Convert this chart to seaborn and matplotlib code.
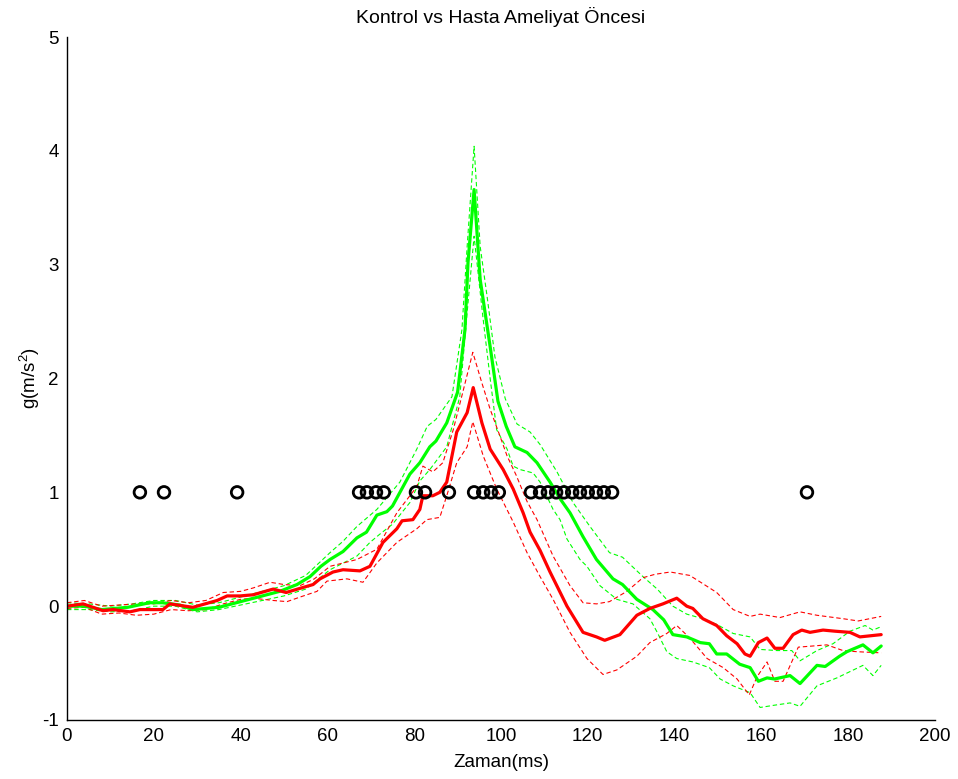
import matplotlib
matplotlib.use("Agg")
import matplotlib.pyplot as plt
import seaborn as sns

# Control group (green): mean and band
gm_x = [0, 4, 8, 14, 19, 22, 26, 29, 35, 40, 45, 49, 53, 56, 58.5, 60.6, 63.6, 66.8, 69, 71.4,
        73.7, 75, 77, 79, 81.3, 83.6, 85, 87.5, 90, 91.7, 92.4, 93.8, 95.2, 97.5, 99.3, 101.2,
        103.2, 106, 108.3, 111.3, 113.5, 115.9, 118.9, 122, 125.8, 128, 131.3, 135, 137.5, 139.6,
        142.8, 145.9, 148, 149.7, 152, 155, 157.4, 159.3, 161.3, 163, 166.6, 168.9, 172.8, 174.7,
        178, 179.7, 183.4, 185.7, 187.6]
gm_y = [0.0, 0.0, -0.03, -0.01, 0.03, 0.03, 0.01, -0.03, -0.01, 0.04, 0.09, 0.13, 0.19, 0.26,
        0.35, 0.41, 0.48, 0.60, 0.65, 0.80, 0.83, 0.88, 1.02, 1.16, 1.26, 1.40, 1.45, 1.61, 1.88,
        2.43, 3.02, 3.66, 2.87, 2.28, 1.80, 1.58, 1.40, 1.35, 1.26, 1.09, 0.95, 0.82, 0.61, 0.41,
        0.24, 0.19, 0.06, -0.03, -0.12, -0.25, -0.27, -0.32, -0.33, -0.42, -0.42, -0.51, -0.54,
        -0.66, -0.63, -0.64, -0.61, -0.68, -0.52, -0.53, -0.44, -0.40, -0.34, -0.41, -0.35]

gu_x = [0, 5, 10, 15, 20, 25, 30, 35, 40, 45, 50, 55, 60.6, 63.6, 66.8, 71.4, 76.7, 80.6, 83, 85,
        88.7, 91, 92.2, 93.8, 95.2, 96.8, 98.6, 101, 103.7, 106.7, 109, 112.9, 116.6, 120.5, 125,
        128, 132.7, 136, 139.6, 142.8, 146.5, 149.7, 153.5, 157.4, 159.7, 163.6, 167, 168.9, 172.8,
        176.5, 180.4, 183.9, 185.7, 187.6]
gu_y = [0.03, 0.02, 0.0, 0.02, 0.05, 0.05, 0.01, 0.03, 0.08, 0.13, 0.18, 0.27, 0.47, 0.57, 0.70,
        0.85, 1.09, 1.38, 1.58, 1.64, 1.84, 2.43, 3.16, 4.04, 3.16, 2.72, 2.19, 1.82, 1.60, 1.53,
        1.42, 1.18, 0.91, 0.70, 0.47, 0.43, 0.26, 0.15, 0.0, -0.07, -0.11, -0.16, -0.24, -0.27,
        -0.38, -0.39, -0.39, -0.48, -0.39, -0.33, -0.22, -0.17, -0.21, -0.18]

gl_x = [0, 5, 10, 15, 20, 25, 30, 35, 40, 45, 50, 55, 60.6, 66.8, 69.8, 72, 75, 79, 81.3, 83.6,
        87.5, 90.5, 92.2, 93.8, 95.8, 97.5, 99, 101.4, 102.8, 104.4, 107.4, 109, 112, 113.6, 115.2,
        118.2, 119.8, 122.8, 126.7, 130.4, 134.3, 136, 138.2, 140.5, 144.2, 148, 150.5, 153.5,
        157.4, 159.7, 163, 166.6, 168.9, 172.8, 177.4, 183.4, 185.7, 187.6]
gl_y = [-0.03, -0.03, -0.05, -0.04, 0.0, 0.0, -0.05, -0.03, 0.01, 0.05, 0.09, 0.15, 0.32, 0.44,
        0.56, 0.63, 0.72, 0.91, 1.10, 1.20, 1.40, 1.84, 2.58, 3.25, 2.55, 2.0, 1.55, 1.38, 1.23,
        1.20, 1.17, 1.09, 0.85, 0.76, 0.59, 0.41, 0.35, 0.18, 0.06, 0.02, -0.11, -0.23, -0.40,
        -0.46, -0.49, -0.54, -0.64, -0.70, -0.76, -0.89, -0.87, -0.85, -0.88, -0.70, -0.63, -0.52,
        -0.61, -0.52]

# Patient group before surgery (red): mean and band
rm_x = [0, 3.7, 8.3, 10.6, 14.5, 16.8, 22.1, 23.7, 29, 34.6, 36.9, 39.9, 42.9, 47.5, 50.5, 54,
        56.7, 58.3, 61.3, 63.6, 67.5, 69.8, 72.8, 76, 77.2, 79.7, 81.3, 82, 84.3, 85.9, 87.5, 89.8,
        92.2, 93.6, 95.6, 97.5, 100.5, 102.8, 105.1, 106.7, 109, 111.3, 115.2, 118.9, 122, 123.9,
        127.4, 131.3, 134.3, 137.3, 140.5, 142.8, 144.2, 146.5, 149.7, 152, 154.4, 156.2, 157.4,
        159.3, 161.3, 163.1, 165, 167.3, 169.3, 171.2, 174.2, 177, 180.4, 182.7, 187.6]
rm_y = [0.0, 0.02, -0.04, -0.03, -0.05, -0.03, -0.03, 0.02, -0.01, 0.05, 0.09, 0.09, 0.10, 0.15,
        0.12, 0.16, 0.19, 0.24, 0.30, 0.32, 0.31, 0.35, 0.56, 0.68, 0.75, 0.76, 0.85, 0.97, 0.97,
        1.0, 1.09, 1.53, 1.70, 1.92, 1.61, 1.38, 1.20, 1.03, 0.82, 0.65, 0.49, 0.30, 0.0, -0.23,
        -0.27, -0.30, -0.25, -0.08, -0.02, 0.02, 0.07, 0.0, -0.02, -0.11, -0.17, -0.26, -0.33,
        -0.42, -0.44, -0.32, -0.28, -0.37, -0.37, -0.25, -0.21, -0.23, -0.21, -0.22, -0.23, -0.27,
        -0.25]

ru_x = [0, 4, 8, 12, 16, 20, 24, 28, 32, 36, 40, 42.9, 46.8, 50, 53.7, 57, 60.6, 66.8, 71.4, 76,
        80.6, 82, 84.3, 86.6, 89, 91.2, 93.5, 95.6, 97.5, 99.8, 101.4, 103.5, 106, 108.3, 112,
        115.9, 118.9, 122, 125, 129, 132.7, 135.5, 139, 143.5, 146, 149.7, 153.5, 157.4, 159.7,
        164.3, 168.9, 172.8, 178.8, 182.3, 187.6]
ru_y = [0.03, 0.05, 0.0, 0.01, 0.02, 0.02, 0.05, 0.03, 0.05, 0.12, 0.13, 0.16, 0.21, 0.19, 0.18,
        0.24, 0.35, 0.41, 0.50, 0.82, 1.05, 1.23, 1.18, 1.26, 1.55, 1.88, 2.23, 1.96, 1.73, 1.49,
        1.32, 1.15, 0.92, 0.76, 0.44, 0.18, 0.03, 0.02, 0.04, 0.13, 0.25, 0.28, 0.30, 0.27, 0.21,
        0.12, -0.03, -0.09, -0.07, -0.10, -0.05, -0.08, -0.11, -0.13, -0.09]

rl_x = [0, 4, 8, 12, 16, 20, 24, 28, 32, 36, 40, 42.9, 47.5, 50.7, 53.7, 57.6, 59.9, 64.5, 68.2,
        71.4, 76, 80.6, 82.9, 85.9, 87.5, 89.8, 92.2, 93.5, 95.9, 99, 102.8, 106, 109, 112, 115.9,
        119.8, 123.5, 126.7, 131.3, 134.3, 138.2, 140.5, 143.5, 147.5, 151.2, 154.4, 157.2, 159,
        161.3, 163.1, 165, 168.5, 175.1, 178.8, 182, 187.6]
rl_y = [-0.02, -0.01, -0.07, -0.06, -0.08, -0.07, -0.03, -0.04, -0.03, 0.02, 0.06, 0.07, 0.05,
        0.04, 0.08, 0.13, 0.22, 0.24, 0.21, 0.38, 0.56, 0.68, 0.76, 0.78, 0.97, 1.26, 1.40, 1.62,
        1.32, 1.03, 0.74, 0.47, 0.26, 0.06, -0.23, -0.46, -0.60, -0.56, -0.44, -0.32, -0.24, -0.17,
        -0.28, -0.46, -0.54, -0.64, -0.78, -0.62, -0.49, -0.66, -0.66, -0.36, -0.34, -0.39, -0.40,
        -0.41]

# Time points flagged as significantly different
sig_x = [16.8, 22.35, 39.2, 67.3, 69.1, 71.2, 73.0, 80.4, 82.5, 88.0, 93.8, 95.9, 97.7, 99.5,
         106.9, 109.0, 110.8, 112.7, 114.5, 116.4, 118.2, 120.0, 121.9, 123.7, 125.6, 170.5]
sig_y = [1] * len(sig_x)

x_ticks = [0, 20, 40, 60, 80, 100, 120, 140, 160, 180, 200]
y_ticks = [-1, 0, 1, 2, 3, 4, 5]

sns.set_style("white")
plt.rcParams["font.family"] = ["Liberation Sans", "DejaVu Sans"]
plt.rcParams["mathtext.fontset"] = "custom"
plt.rcParams["mathtext.rm"] = "Liberation Sans"
plt.rcParams["mathtext.it"] = "Liberation Sans"
plt.rcParams["text.color"] = "black"
plt.rcParams["axes.labelcolor"] = "black"

fig = plt.figure(figsize=(9.58, 7.79), dpi=100)
ax = fig.add_axes([67 / 958, 59 / 779, 868 / 958, 683 / 779])

GREEN = (0.0, 1.0, 0.0)
RED = (1.0, 0.0, 0.0)
dash = (0, (4, 2.5))

for xs, ys in [(gu_x, gu_y), (gl_x, gl_y)]:
    sns.lineplot(x=xs, y=ys, ax=ax, color=GREEN, linewidth=0.8, linestyle=dash,
                 estimator=None, sort=False)
for xs, ys in [(ru_x, ru_y), (rl_x, rl_y)]:
    sns.lineplot(x=xs, y=ys, ax=ax, color=RED, linewidth=0.8, linestyle=dash,
                 estimator=None, sort=False)
sns.lineplot(x=gm_x, y=gm_y, ax=ax, color=GREEN, linewidth=2.3, estimator=None, sort=False)
sns.lineplot(x=rm_x, y=rm_y, ax=ax, color=RED, linewidth=2.3, estimator=None, sort=False)

sns.scatterplot(x=sig_x, y=sig_y, ax=ax, marker="o", s=70, facecolor="none",
                edgecolor="black", linewidth=2.0, zorder=5)

ax.set_xlim(0, 200)
ax.set_ylim(-1, 5)
ax.set_xticks(x_ticks)
ax.set_yticks(y_ticks)
ax.set_xticklabels([str(t) for t in x_ticks])
ax.set_yticklabels([str(t) for t in y_ticks])

for side in ["top", "right"]:
    ax.spines[side].set_visible(False)
for side in ["left", "bottom"]:
    ax.spines[side].set_color("black")
    ax.spines[side].set_linewidth(1.0)

ax.tick_params(axis="both", direction="in", length=6, width=0.8, color="black",
               labelsize=13.5, labelcolor="black")
ax.tick_params(axis="x", pad=6)
ax.tick_params(axis="y", pad=6)

ax.set_title("Kontrol vs Hasta Ameliyat Öncesi", fontsize=14, pad=10, color="black")
ax.set_xlabel("Zaman(ms)", fontsize=13.5, labelpad=6, color="black")
ax.set_ylabel("g(m/s$^{2}$)", fontsize=13.5, labelpad=0, color="black")

fig.savefig("out.png", dpi=100, facecolor="white")
